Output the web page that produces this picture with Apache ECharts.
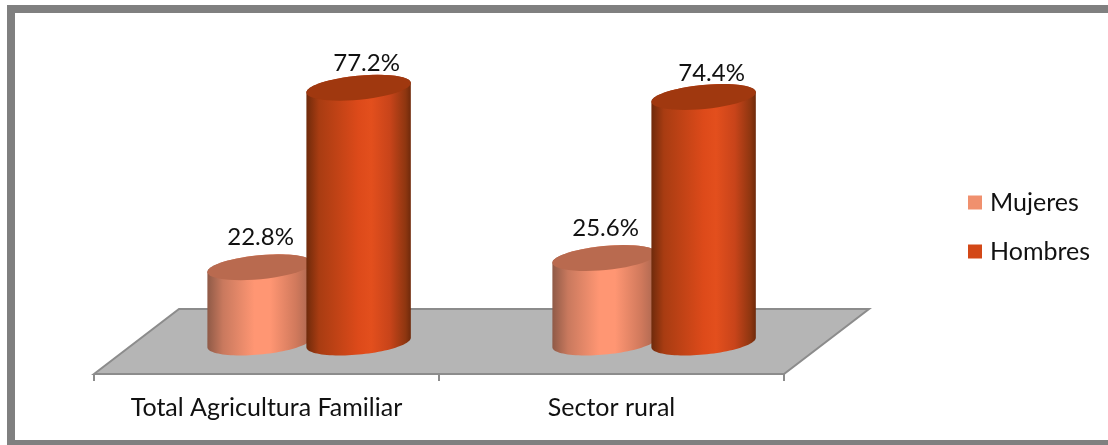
<!DOCTYPE html>
<html>
<head>
<meta charset="utf-8">
<style>
  html, body { margin: 0; padding: 0; background: #fff; }
  #main { width: 1108px; height: 445px; }
</style>
<script src="https://cdn.jsdelivr.net/npm/echarts@6/dist/echarts.min.js"></script>
</head>
<body>
<div id="main"></div>
<script>
var categories = ['Total Agricultura Familiar', 'Sector rural']
var mujeres = [22.8, 25.6]
var hombres = [77.2, 74.4]

var font = 'Lato'
var TILT = -5.5 * Math.PI / 180

// tilted ellipse points, from angle a0 to a1
function arc(cx, cy, rx, ry, a0, a1) {
  var pts = []
  for (var i = 0; i <= 48; i++) {
    var t = a0 + (a1 - a0) * i / 48
    var x = rx * Math.cos(t)
    var y = ry * Math.sin(t)
    pts.push([
      cx + x * Math.cos(TILT) - y * Math.sin(TILT),
      cy + x * Math.sin(TILT) + y * Math.cos(TILT)
    ])
  }
  return pts
}

function cylinder(opt) {
  return function (params, api) {
    var i = api.value(0)
    var v = api.value(1)
    var top = api.coord([i, v])
    var base = api.coord([i, 0])
    var band = api.size([1, 0])[0]
    var cx = top[0] + band * opt.shift
    var rx = band * 0.152
    var ry = 12
    // angle where the outline is vertical
    var a = Math.atan2(-ry * Math.sin(TILT), rx * Math.cos(TILT))
    var side = arc(cx, base[1], rx, ry, a + Math.PI, a).concat(arc(cx, top[1], rx, ry, a, a - Math.PI))
    return {
      type: 'group',
      children: [
        {
          type: 'polygon',
          shape: { points: side },
          style: { fill: new echarts.graphic.LinearGradient(0, 0, 1, 0, opt.stops) }
        },
        {
          type: 'polygon',
          shape: { points: arc(cx, top[1], rx, ry, 0, Math.PI * 2) },
          style: { fill: opt.cap }
        },
        {
          type: 'text',
          x: cx + opt.labelDx,
          y: top[1] + opt.labelDy,
          style: {
            text: v.toFixed(1) + '%',
            fill: '#111',
            font: '24px ' + font,
            align: 'center',
            verticalAlign: 'middle'
          }
        }
      ]
    }
  }
}

function floor(params) {
  var g = params.coordSys
  var front = g.y + g.height
  var back = front - 65
  var left = g.x
  var right = g.x + g.width
  return {
    type: 'polygon',
    shape: { points: [[left, front], [left + 85, back], [right + 85, back], [right, front]] },
    style: { fill: '#b5b5b5', stroke: '#8c8c8c', lineWidth: 2 }
  }
}

var chart = echarts.init(document.getElementById('main'), null, { renderer: 'canvas' })
chart.setOption({
  animation: false,
  backgroundColor: '#fff',
  graphic: [
    { type: 'rect', shape: { x: 7, y: 5, width: 1101, height: 8 }, style: { fill: '#808080' } },
    { type: 'rect', shape: { x: 7, y: 5, width: 8, height: 440 }, style: { fill: '#808080' } },
    { type: 'rect', shape: { x: 7, y: 440, width: 1101, height: 5 }, style: { fill: '#808080' } }
  ],
  // the floor sits below value 0, so the axis starts under it
  grid: { left: 94, right: 324, top: 12.5, bottom: 71 },
  legend: {
    data: ['Mujeres', 'Hombres'],
    orient: 'vertical',
    left: 963,
    top: 185,
    itemWidth: 14,
    itemHeight: 14,
    itemGap: 24,
    icon: 'rect',
    textStyle: { fontFamily: font, fontSize: 25, color: '#111', padding: [0, 0, 0, 3] }
  },
  xAxis: {
    type: 'category',
    data: categories,
    axisLine: { show: false, onZero: false },
    axisTick: { show: true, interval: 0, length: 7, lineStyle: { color: '#8c8c8c', width: 2 } },
    axisLabel: { interval: 0, margin: 21, fontFamily: font, fontSize: 25, color: '#111' }
  },
  yAxis: { type: 'value', min: -9.545, max: 100, show: false },
  series: [
    {
      type: 'custom',
      silent: true,
      data: [0],
      z: 1,
      renderItem: floor
    },
    {
      name: 'Mujeres',
      type: 'custom',
      z: 2,
      itemStyle: { color: '#f0906e' },
      data: mujeres.map(function (v, i) { return [i, v] }),
      renderItem: cylinder({
        shift: -0.02,
        labelDx: 1,
        labelDy: -30,
        cap: '#b96a4f',
        stops: [
          { offset: 0, color: '#8f5a47' },
          { offset: 0.15, color: '#c9795e' },
          { offset: 0.45, color: '#ff9673' },
          { offset: 0.6, color: '#ff9673' },
          { offset: 0.85, color: '#d0795c' },
          { offset: 1, color: '#a8654f' }
        ]
      })
    },
    {
      name: 'Hombres',
      type: 'custom',
      z: 3,
      itemStyle: { color: '#d34817' },
      data: hombres.map(function (v, i) { return [i, v] }),
      renderItem: cylinder({
        shift: 0.267,
        labelDx: 8,
        labelDy: -24,
        cap: '#a0380f',
        stops: [
          { offset: 0, color: '#6f2a0b' },
          { offset: 0.12, color: '#a83c12' },
          { offset: 0.5, color: '#dd4a1a' },
          { offset: 0.62, color: '#e34f1d' },
          { offset: 0.8, color: '#c8441a' },
          { offset: 0.95, color: '#8e3610' },
          { offset: 1, color: '#6f2a0b' }
        ]
      })
    }
  ]
})
</script>
</body>
</html>
